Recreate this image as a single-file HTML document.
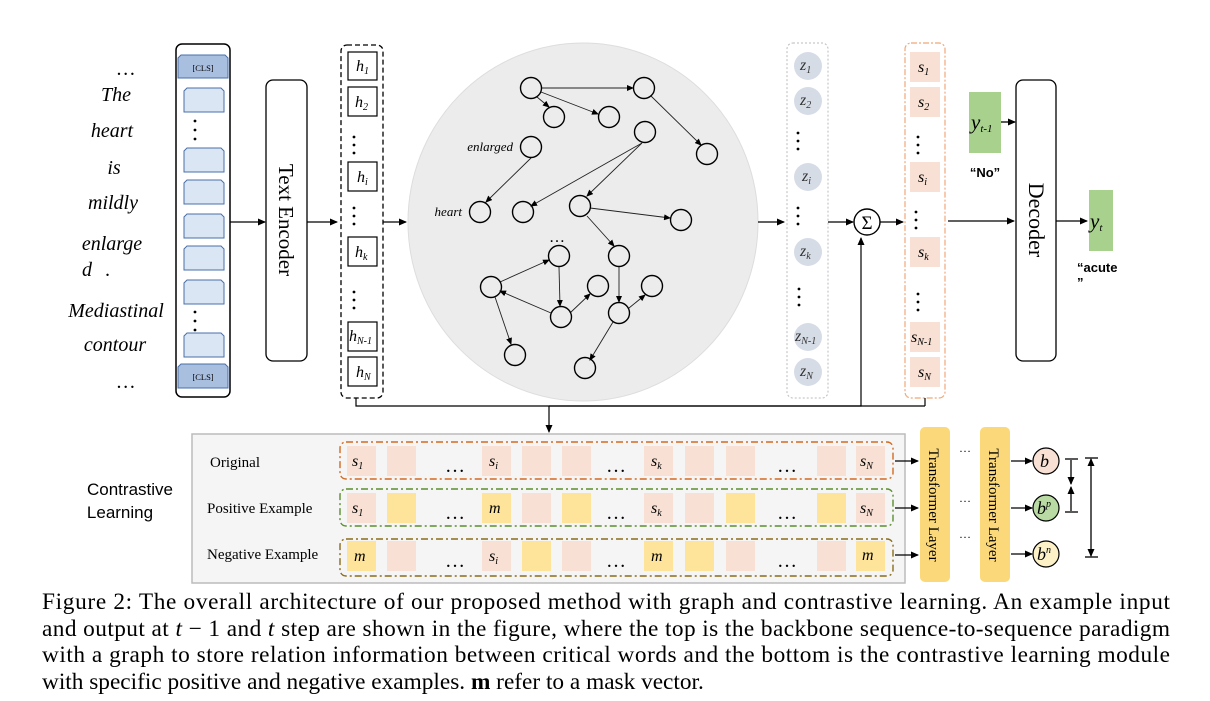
<!DOCTYPE html>
<html><head><meta charset="utf-8"><style>
html,body{margin:0;padding:0;background:#fff;}
svg{display:block;}
.it{font-family:"Liberation Serif",serif;font-style:italic;}
.sr{font-family:"Liberation Serif",serif;}
.sn{font-family:"Liberation Sans",sans-serif;}
</style></head><body>
<svg width="1210" height="701" viewBox="0 0 1210 701" xmlns="http://www.w3.org/2000/svg">
<defs>
<marker id="ar" markerWidth="8" markerHeight="8" refX="7" refY="4" orient="auto" markerUnits="userSpaceOnUse"><path d="M0,0.5 L8,4 L0,7.5 z" fill="#000"/></marker>
<marker id="as" markerWidth="7" markerHeight="6" refX="6" refY="3" orient="auto" markerUnits="userSpaceOnUse"><path d="M0,0 L7,3 L0,6 z" fill="#000"/></marker>
<marker id="at" markerWidth="8" markerHeight="8" refX="7" refY="4" orient="auto-start-reverse" markerUnits="userSpaceOnUse"><path d="M0,0.5 L8,4 L0,7.5 z" fill="#000"/></marker>
</defs>

<g class="it" font-size="20" text-anchor="middle">
<text x="126" y="75">…</text>
<text x="116" y="101">The</text>
<text x="112" y="137">heart</text>
<text x="114" y="174">is</text>
<text x="113" y="209">mildly</text>
<text x="112" y="250">enlarge</text>
<text x="87" y="276">d</text><text x="108" y="276">.</text>
<text x="116" y="317">Mediastinal</text>
<text x="115" y="351">contour</text>
<text x="126" y="388">…</text>
</g>

<rect x="176" y="44" width="54" height="353" rx="6" fill="#fff" stroke="#000" stroke-width="1.5"/>
<path d="M178,78 V58 l3,-3 h44 l3,3 V78 z" fill="#a9bfe0" stroke="#4a6fa8" stroke-width="1"/>
<text x="203" y="71" class="sr" font-size="8.5" text-anchor="middle">[CLS]</text>
<g fill="#dbe6f5" stroke="#4a6fa8" stroke-width="1">
<path d="M184,112 V91 l3,-3 h34 l3,3 V112 z"/>
<path d="M184,172 V151 l3,-3 h34 l3,3 V172 z"/>
<path d="M184,204 V183 l3,-3 h34 l3,3 V204 z"/>
<path d="M184,238 V217 l3,-3 h34 l3,3 V238 z"/>
<path d="M184,270 V249 l3,-3 h34 l3,3 V270 z"/>
<path d="M184,304 V283 l3,-3 h34 l3,3 V304 z"/>
<path d="M184,357 V336 l3,-3 h34 l3,3 V357 z"/>
</g>
<path d="M178,388 V367 l3,-3 h44 l3,3 V388 z" fill="#a9bfe0" stroke="#4a6fa8" stroke-width="1"/>
<text x="203" y="380" class="sr" font-size="8.5" text-anchor="middle">[CLS]</text>
<g fill="#000"><circle cx="195" cy="121" r="1.4"/><circle cx="195" cy="130" r="1.4"/><circle cx="195" cy="139" r="1.4"/>
<circle cx="195" cy="312" r="1.4"/><circle cx="195" cy="321" r="1.4"/><circle cx="195" cy="330" r="1.4"/></g>

<line x1="230" y1="222" x2="265" y2="222" stroke="#000" stroke-width="1.3" marker-end="url(#ar)"/>
<rect x="266" y="80" width="41" height="281" rx="7" fill="#fff" stroke="#000" stroke-width="1.3"/>
<text transform="translate(279,220) rotate(90)" class="sr" font-size="21" text-anchor="middle">Text Encoder</text>
<line x1="307" y1="222" x2="337" y2="222" stroke="#000" stroke-width="1.3" marker-end="url(#ar)"/>

<rect x="341" y="45" width="42" height="353" rx="6" fill="#fff" stroke="#000" stroke-width="1.3" stroke-dasharray="5,3"/>
<g fill="#fff" stroke="#000" stroke-width="1.2">
<rect x="348" y="52" width="29" height="28"/><rect x="348" y="87" width="29" height="29"/>
<rect x="348" y="162" width="29" height="29"/><rect x="348" y="237" width="29" height="29"/>
<rect x="348" y="322" width="29" height="29"/><rect x="348" y="357" width="29" height="29"/>
</g>
<g class="it" font-size="16">
<text x="356" y="71">h<tspan font-size="10" dy="3">1</tspan></text>
<text x="355" y="107">h<tspan font-size="10" dy="3">2</tspan></text>
<text x="357" y="182">h<tspan font-size="10" dy="3">i</tspan></text>
<text x="355" y="257">h<tspan font-size="10" dy="3">k</tspan></text>
<text x="349" y="341">h<tspan font-size="10" dy="3">N-1</tspan></text>
<text x="356" y="377">h<tspan font-size="10" dy="3">N</tspan></text>
</g>
<g fill="#000">
<circle cx="354" cy="137" r="1.4"/><circle cx="354" cy="145" r="1.4"/><circle cx="354" cy="153" r="1.4"/>
<circle cx="354" cy="208" r="1.4"/><circle cx="354" cy="216" r="1.4"/><circle cx="354" cy="224" r="1.4"/>
<circle cx="354" cy="292" r="1.4"/><circle cx="354" cy="300" r="1.4"/><circle cx="354" cy="308" r="1.4"/>
</g>
<line x1="383" y1="222" x2="406" y2="222" stroke="#000" stroke-width="1.3" marker-end="url(#ar)"/>

<ellipse cx="583" cy="222" rx="175" ry="179" fill="#ececec" stroke="#ddd"/>
<g stroke="#222" stroke-width="0.9" fill="none" marker-end="url(#as)">
<line x1="541" y1="88" x2="633" y2="88"/>
<line x1="537" y1="97" x2="549" y2="107"/>
<line x1="541" y1="92" x2="598" y2="114"/>
<line x1="651" y1="96" x2="701" y2="145"/>
<line x1="642" y1="143" x2="531" y2="206"/>
<line x1="642" y1="143" x2="587" y2="196"/>
<line x1="531" y1="158" x2="486" y2="202"/>
<line x1="590" y1="208" x2="670" y2="218"/>
<line x1="587" y1="216" x2="614" y2="246"/>
<line x1="619" y1="267" x2="619" y2="302"/>
<line x1="629" y1="308" x2="645" y2="295"/>
<line x1="613" y1="322" x2="590" y2="360"/>
<line x1="551" y1="313" x2="500" y2="291"/>
<line x1="500" y1="282" x2="549" y2="260"/>
<line x1="559" y1="267" x2="560" y2="306"/>
<line x1="570" y1="313" x2="590" y2="294"/>
<line x1="495" y1="297" x2="511" y2="344"/>
</g>
<g fill="none" stroke="#000" stroke-width="1.4">
<circle cx="531" cy="88" r="10.5"/><circle cx="644" cy="88" r="10.5"/>
<circle cx="554" cy="117" r="10.5"/><circle cx="609" cy="117" r="10.5"/>
<circle cx="645" cy="132" r="10.5"/><circle cx="707" cy="154" r="10.5"/>
<circle cx="531" cy="147" r="10.5"/><circle cx="480" cy="212" r="10.5"/>
<circle cx="523" cy="212" r="10.5"/><circle cx="580" cy="206" r="10.5"/>
<circle cx="681" cy="220" r="10.5"/><circle cx="559" cy="256" r="10.5"/>
<circle cx="619" cy="256" r="10.5"/><circle cx="491" cy="287" r="10.5"/>
<circle cx="598" cy="286" r="10.5"/><circle cx="652" cy="286" r="10.5"/>
<circle cx="561" cy="317" r="10.5"/><circle cx="619" cy="313" r="10.5"/>
<circle cx="515" cy="355" r="10.5"/><circle cx="585" cy="368" r="10.5"/>
</g>
<text x="513" y="151" class="it" font-size="13" text-anchor="end">enlarged</text>
<text x="462" y="216" class="it" font-size="13" text-anchor="end">heart</text>
<text x="557" y="242" class="sr" font-size="16" text-anchor="middle">…</text>
<line x1="758" y1="222" x2="784" y2="222" stroke="#000" stroke-width="1.3" marker-end="url(#ar)"/>

<rect x="787" y="43" width="41" height="355" rx="6" fill="#fff" stroke="#bbb" stroke-width="1" stroke-dasharray="2,2"/>
<g fill="#d6dce6">
<circle cx="808" cy="66" r="14"/><circle cx="808" cy="101" r="14"/><circle cx="808" cy="177" r="14"/>
<circle cx="808" cy="252" r="14"/><circle cx="808" cy="337" r="14"/><circle cx="808" cy="372" r="14"/>
</g>
<g class="it" font-size="16" fill="#333">
<text x="800" y="70">z<tspan font-size="10" dy="3">1</tspan></text>
<text x="800" y="105">z<tspan font-size="10" dy="3">2</tspan></text>
<text x="802" y="181">z<tspan font-size="10" dy="3">i</tspan></text>
<text x="800" y="256">z<tspan font-size="10" dy="3">k</tspan></text>
<text x="795" y="341">z<tspan font-size="10" dy="3">N-1</tspan></text>
<text x="800" y="376">z<tspan font-size="10" dy="3">N</tspan></text>
</g>
<g fill="#000">
<circle cx="798" cy="133" r="1.4"/><circle cx="798" cy="141" r="1.4"/><circle cx="798" cy="149" r="1.4"/>
<circle cx="798" cy="208" r="1.4"/><circle cx="798" cy="216" r="1.4"/><circle cx="798" cy="224" r="1.4"/>
<circle cx="799" cy="289" r="1.4"/><circle cx="799" cy="297" r="1.4"/><circle cx="799" cy="305" r="1.4"/>
</g>
<line x1="828" y1="222" x2="853" y2="222" stroke="#000" stroke-width="1.3" marker-end="url(#ar)"/>
<circle cx="867" cy="222" r="13" fill="#fff" stroke="#000" stroke-width="1.4"/>
<text x="867" y="229" class="sr" font-size="19" text-anchor="middle">Σ</text>
<line x1="880" y1="222" x2="903" y2="222" stroke="#000" stroke-width="1.3" marker-end="url(#ar)"/>

<rect x="905" y="43" width="40" height="355" rx="6" fill="#fff" stroke="#f0a878" stroke-width="1.2" stroke-dasharray="6,2,2,2"/>
<g fill="#f8e0d4">
<rect x="910" y="52" width="30" height="30"/><rect x="910" y="87" width="30" height="30"/>
<rect x="910" y="162" width="30" height="30"/><rect x="910" y="237" width="30" height="30"/>
<rect x="910" y="322" width="30" height="30"/><rect x="910" y="357" width="30" height="30"/>
</g>
<g class="it" font-size="16">
<text x="918" y="72">s<tspan font-size="10" dy="3">1</tspan></text>
<text x="918" y="107">s<tspan font-size="10" dy="3">2</tspan></text>
<text x="918" y="182">s<tspan font-size="10" dy="3">i</tspan></text>
<text x="918" y="257">s<tspan font-size="10" dy="3">k</tspan></text>
<text x="911" y="342">s<tspan font-size="10" dy="3">N-1</tspan></text>
<text x="918" y="377">s<tspan font-size="10" dy="3">N</tspan></text>
</g>
<g fill="#000">
<circle cx="918" cy="137" r="1.4"/><circle cx="918" cy="145" r="1.4"/><circle cx="918" cy="153" r="1.4"/>
<circle cx="916" cy="212" r="1.4"/><circle cx="916" cy="220" r="1.4"/><circle cx="916" cy="228" r="1.4"/>
<circle cx="918" cy="294" r="1.4"/><circle cx="918" cy="302" r="1.4"/><circle cx="918" cy="310" r="1.4"/>
</g>
<line x1="948" y1="221" x2="1014" y2="221" stroke="#000" stroke-width="1.3" marker-end="url(#ar)"/>

<rect x="969" y="92" width="32" height="61" fill="#a9d18e"/>
<text x="971" y="129" class="it" font-size="21">y<tspan font-size="11" dy="3">t-1</tspan></text>
<line x1="1001" y1="122" x2="1015" y2="122" stroke="#000" stroke-width="1.3" marker-end="url(#ar)"/>
<text x="985" y="177" class="sn" font-size="13" font-weight="bold" text-anchor="middle">“No”</text>
<rect x="1016" y="80" width="40" height="281" rx="7" fill="#fff" stroke="#000" stroke-width="1.3"/>
<text transform="translate(1029,220) rotate(90)" class="sr" font-size="22" text-anchor="middle">Decoder</text>
<line x1="1056" y1="221" x2="1087" y2="221" stroke="#000" stroke-width="1.3" marker-end="url(#ar)"/>
<rect x="1089" y="190" width="24" height="61" fill="#a9d18e"/>
<text x="1090" y="228" class="it" font-size="21">y<tspan font-size="11" dy="3">t</tspan></text>
<text x="1077" y="272" class="sn" font-size="13" font-weight="bold">“acute</text>
<text x="1077" y="287" class="sn" font-size="13" font-weight="bold">”</text>

<polyline points="356,398 356,406 861,406 861,238" fill="none" stroke="#000" stroke-width="1.2" marker-end="url(#ar)"/>
<line x1="925" y1="398" x2="925" y2="406" stroke="#000" stroke-width="1.2"/>
<line x1="549" y1="406" x2="925" y2="406" stroke="#000" stroke-width="1.2"/>
<line x1="549" y1="406" x2="549" y2="432" stroke="#000" stroke-width="1.2" marker-end="url(#ar)"/>

<text x="130" y="495" class="sn" font-size="17" text-anchor="middle">Contrastive</text>
<text x="120" y="518" class="sn" font-size="17" text-anchor="middle">Learning</text>
<rect x="192" y="434" width="713" height="149" fill="#f5f5f5" stroke="#bbb" stroke-width="1.5"/>
<g class="sr" font-size="15">
<text x="210" y="467">Original</text>
<text x="207" y="513">Positive Example</text>
<text x="207" y="559">Negative Example</text>
</g>
<rect x="340" y="442" width="553" height="37" rx="6" fill="none" stroke="#d46a1e" stroke-width="1.4" stroke-dasharray="7,3,2,3"/>
<rect x="340" y="489" width="553" height="37" rx="6" fill="none" stroke="#5d8f2e" stroke-width="1.4" stroke-dasharray="7,3,2,3"/>
<rect x="340" y="539" width="553" height="37" rx="6" fill="none" stroke="#8a6d1a" stroke-width="1.4" stroke-dasharray="7,3,2,3"/>
<g fill="#f8e0d4">
<rect x="347" y="446" width="29" height="30"/><rect x="387" y="446" width="29" height="30"/>
<rect x="482" y="446" width="29" height="30"/><rect x="522" y="446" width="29" height="30"/>
<rect x="562" y="446" width="29" height="30"/><rect x="644" y="446" width="29" height="30"/>
<rect x="685" y="446" width="29" height="30"/><rect x="726" y="446" width="29" height="30"/>
<rect x="817" y="446" width="29" height="30"/><rect x="856" y="446" width="29" height="30"/>
</g>
<g>
<rect x="347" y="493" width="29" height="30" fill="#f8e0d4"/><rect x="387" y="493" width="29" height="30" fill="#fde49a"/>
<rect x="482" y="493" width="29" height="30" fill="#fde49a"/><rect x="522" y="493" width="29" height="30" fill="#f8e0d4"/>
<rect x="562" y="493" width="29" height="30" fill="#fde49a"/><rect x="644" y="493" width="29" height="30" fill="#f8e0d4"/>
<rect x="685" y="493" width="29" height="30" fill="#f8e0d4"/><rect x="726" y="493" width="29" height="30" fill="#fde49a"/>
<rect x="817" y="493" width="29" height="30" fill="#fde49a"/><rect x="856" y="493" width="29" height="30" fill="#f8e0d4"/>
</g>
<g>
<rect x="347" y="541" width="29" height="30" fill="#fde49a"/><rect x="387" y="541" width="29" height="30" fill="#f8e0d4"/>
<rect x="482" y="541" width="29" height="30" fill="#f8e0d4"/><rect x="522" y="541" width="29" height="30" fill="#fde49a"/>
<rect x="562" y="541" width="29" height="30" fill="#f8e0d4"/><rect x="644" y="541" width="29" height="30" fill="#fde49a"/>
<rect x="685" y="541" width="29" height="30" fill="#fde49a"/><rect x="726" y="541" width="29" height="30" fill="#f8e0d4"/>
<rect x="817" y="541" width="29" height="30" fill="#f8e0d4"/><rect x="856" y="541" width="29" height="30" fill="#fde49a"/>
</g>
<g class="it" font-size="16">
<text x="352" y="466">s<tspan font-size="10" dy="3">1</tspan></text>
<text x="489" y="466">s<tspan font-size="10" dy="3">i</tspan></text>
<text x="651" y="466">s<tspan font-size="10" dy="3">k</tspan></text>
<text x="860" y="466">s<tspan font-size="10" dy="3">N</tspan></text>
<text x="352" y="513">s<tspan font-size="10" dy="3">1</tspan></text>
<text x="489" y="513">m</text>
<text x="651" y="513">s<tspan font-size="10" dy="3">k</tspan></text>
<text x="860" y="513">s<tspan font-size="10" dy="3">N</tspan></text>
<text x="354" y="561">m</text>
<text x="489" y="561">s<tspan font-size="10" dy="3">i</tspan></text>
<text x="651" y="561">m</text>
<text x="862" y="560">m</text>
</g>
<g class="sr" font-size="20" text-anchor="middle">
<text x="455" y="472">…</text><text x="616" y="472">…</text><text x="787" y="472">…</text>
<text x="455" y="519">…</text><text x="616" y="519">…</text><text x="787" y="519">…</text>
<text x="455" y="567">…</text><text x="616" y="567">…</text><text x="787" y="567">…</text>
</g>
<g stroke="#000" stroke-width="1.3" marker-end="url(#ar)">
<line x1="895" y1="461" x2="918" y2="461"/>
<line x1="895" y1="508" x2="918" y2="508"/>
<line x1="895" y1="555" x2="918" y2="555"/>
</g>
<rect x="920" y="427" width="30" height="155" rx="5" fill="#fbd97a"/>
<rect x="980" y="427" width="30" height="155" rx="5" fill="#fbd97a"/>
<text transform="translate(929,505) rotate(90)" class="sr" font-size="15" text-anchor="middle">Transformer Layer</text>
<text transform="translate(989,505) rotate(90)" class="sr" font-size="15" text-anchor="middle">Transformer Layer</text>
<g class="sr" font-size="12" text-anchor="middle">
<text x="965" y="452">…</text><text x="965" y="502">…</text><text x="965" y="538">…</text>
</g>
<g stroke="#000" stroke-width="1.3" marker-end="url(#ar)">
<line x1="1011" y1="461" x2="1032" y2="461"/>
<line x1="1011" y1="508" x2="1032" y2="508"/>
<line x1="1011" y1="554" x2="1032" y2="554"/>
</g>
<circle cx="1046" cy="461" r="13" fill="#f8e0d4" stroke="#000" stroke-width="1.2"/>
<circle cx="1046" cy="508" r="13" fill="#b9dba3" stroke="#000" stroke-width="1.2"/>
<circle cx="1046" cy="554" r="13" fill="#fdf1c8" stroke="#000" stroke-width="1.2"/>
<g class="it" font-size="18">
<text x="1040" y="467">b</text>
<text x="1037" y="514">b<tspan font-size="10" dy="-7">p</tspan></text>
<text x="1037" y="560">b<tspan font-size="10" dy="-7">n</tspan></text>
</g>
<g stroke="#000" stroke-width="1.3">
<line x1="1065" y1="459" x2="1078" y2="459"/><line x1="1065" y1="512" x2="1078" y2="512"/>
<line x1="1071" y1="460" x2="1071" y2="484" marker-end="url(#at)"/>
<line x1="1071" y1="487" x2="1071" y2="511" marker-start="url(#at)"/>
<line x1="1085" y1="458" x2="1098" y2="458"/><line x1="1085" y1="557" x2="1098" y2="557"/>
<line x1="1091" y1="459" x2="1091" y2="556" marker-start="url(#at)" marker-end="url(#at)"/>
</g>

<g class="sr" font-size="23.3" fill="#000">
<text x="42" y="609" textLength="1128" lengthAdjust="spacing">Figure 2: The overall architecture of our proposed method with graph and contrastive learning. An example input</text>
<text x="42" y="636" textLength="1128" lengthAdjust="spacing">and output at <tspan font-style="italic">t</tspan> − 1 and <tspan font-style="italic">t</tspan> step are shown in the figure, where the top is the backbone sequence-to-sequence paradigm</text>
<text x="42" y="662" textLength="1128" lengthAdjust="spacing">with a graph to store relation information between critical words and the bottom is the contrastive learning module</text>
<text x="42" y="689">with specific positive and negative examples. <tspan font-weight="bold">m</tspan> refer to a mask vector.</text>
</g>
</svg>
</body></html>
